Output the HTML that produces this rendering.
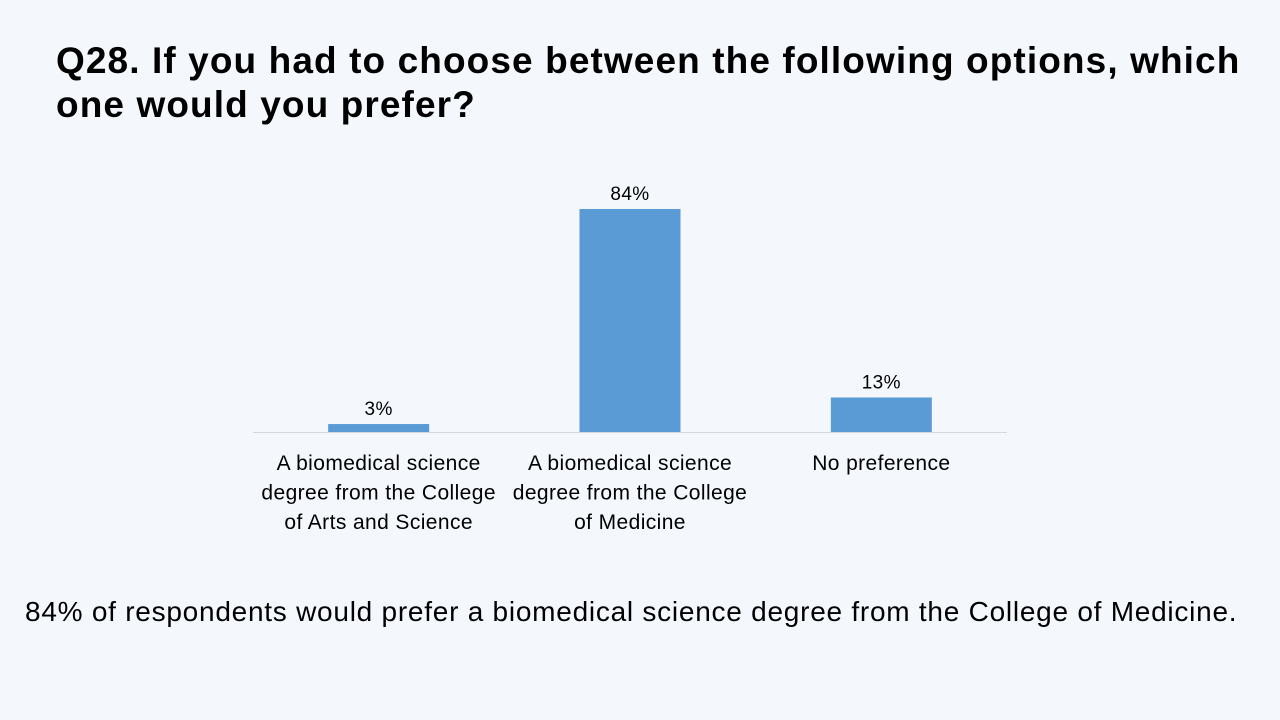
<!DOCTYPE html>
<html><head><meta charset="utf-8"><style>
html,body{margin:0;padding:0;width:1280px;height:720px;background:#f4f8fc;overflow:hidden;font-family:"Liberation Sans",sans-serif}
#title{position:absolute;left:56px;top:39px;width:1200px;font-weight:bold;font-size:37px;line-height:44px;color:#000;letter-spacing:1.1px}
#note{position:absolute;left:25px;top:596px;font-size:28px;color:#000;white-space:nowrap;letter-spacing:0.75px}
svg{position:absolute;left:0;top:0}
</style></head><body>
<div id="title">Q28. If you had to choose between the following options, which<br>one would you prefer?</div>
<svg id="chart" width="1280" height="720"></svg>
<div id="note">84% of respondents would prefer a biomedical science degree from the College of Medicine.</div>
<script>
const categories=[["A biomedical science","degree from the College","of Arts and Science"],["A biomedical science","degree from the College","of Medicine"],["No preference"]];
const values=[3,84,13];
const valueLabels=["3%","84%","13%"];
const NS="http://www.w3.org/2000/svg";
const svg=document.getElementById('chart');
const x0=253,x1=1007,baseY=432,pxPer=2.655,barW=101;
const band=(x1-x0)/categories.length;
function xCenter(i){return x0+band*(i+0.5);}
function yScale(v){return baseY-v*pxPer;}
function mk(tag,attrs){const e=document.createElementNS(NS,tag);for(const k in attrs)e.setAttribute(k,attrs[k]);svg.appendChild(e);return e;}
const ax=mk('line',{x1:x0,x2:x1,y1:baseY+0.5,y2:baseY+0.5,stroke:'#d9d9d9','stroke-width':1});


values.forEach((v,i)=>{
  const cx=xCenter(i);
  const r=mk('rect',{x:cx-barW/2,y:yScale(v),width:barW,height:baseY-yScale(v),fill:'#5b9bd5'});
  
  
  const t=mk('text',{x:cx,y:yScale(v)-9,'text-anchor':'middle','font-size':'19','letter-spacing':'0.4','fill':'#000','font-family':'Liberation Sans, sans-serif'});
  t.textContent=valueLabels[i];
  
  
  categories[i].forEach((ln,j)=>{
    const c=mk('text',{x:cx,y:470+j*29.5,'text-anchor':'middle','font-size':'21','letter-spacing':'0.4','fill':'#000','font-family':'Liberation Sans, sans-serif'});
    c.textContent=ln;
    
    
  });
});
</script>
</body></html>
